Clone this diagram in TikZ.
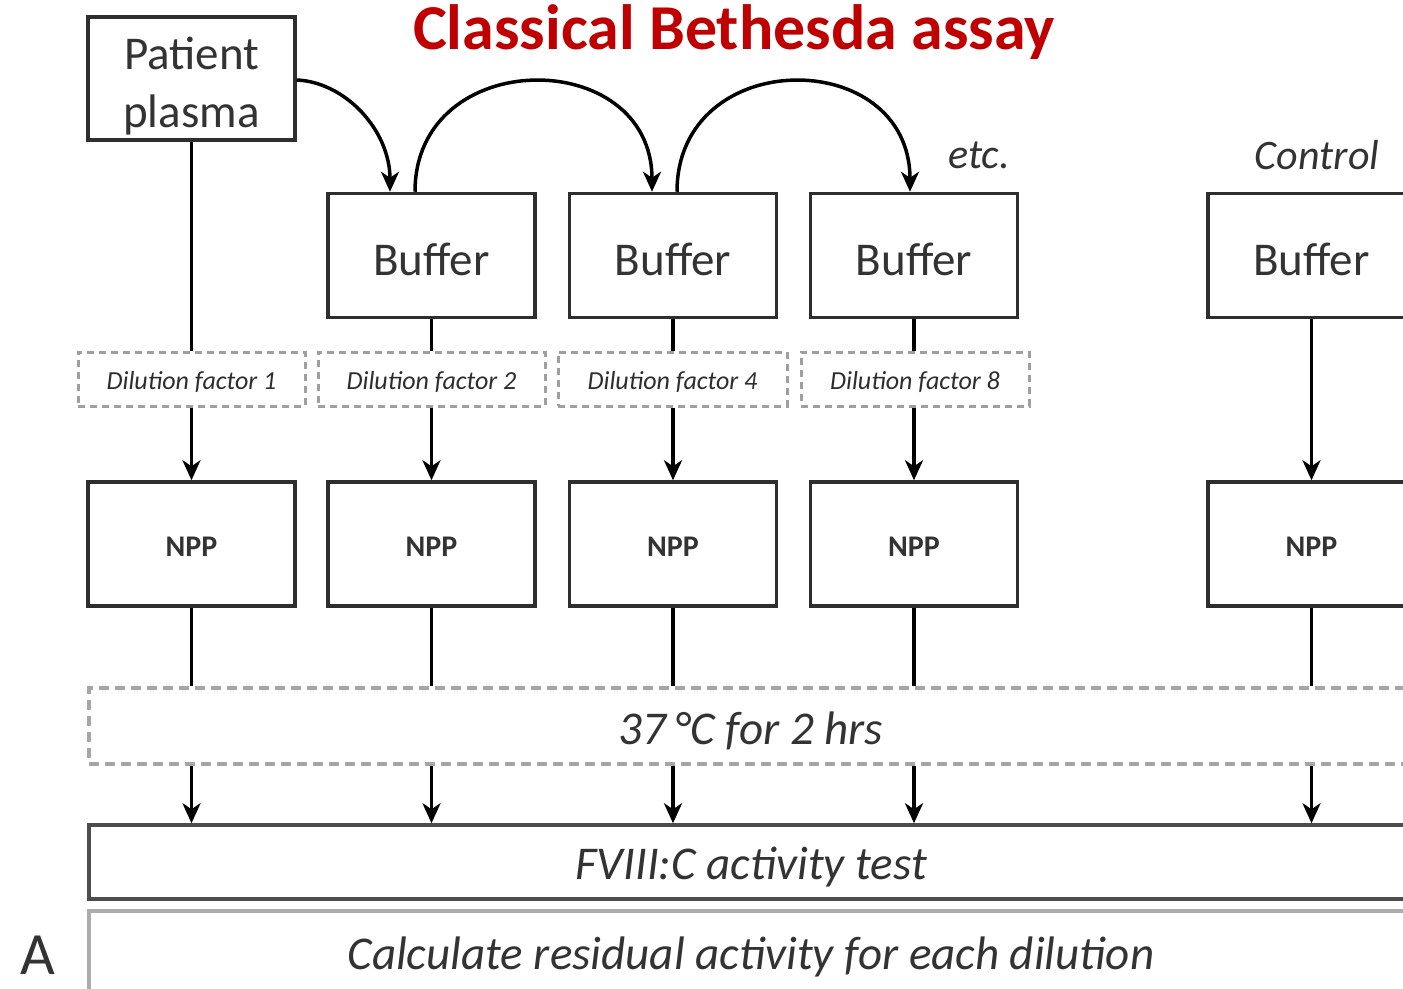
\documentclass[tikz,border=0pt]{standalone}
\usepackage{fontspec}
\setmainfont{Carlito}
\usetikzlibrary{arrows.meta}
\definecolor{titlered}{HTML}{C00000}
\definecolor{boxline}{HTML}{2E2E2E}
\definecolor{txt}{HTML}{333333}
\newcommand{\dn}[2]{\raisebox{-#1pt}[\height][\depth]{#2}}
\begin{document}
\begin{tikzpicture}[x=1pt,y=-1pt,
  solidbox/.style={draw=boxline,line width=3.5pt,fill=white,minimum width=207pt,minimum height=124pt,inner sep=0pt,text=txt,font=\fontsize{47}{50}\selectfont},
  nppbox/.style={solidbox,font=\fontsize{30}{32}\selectfont\bfseries},
  dilbox/.style={draw=gray!75,line width=3pt,dash pattern=on 7pt off 5pt,minimum height=54pt,inner sep=0pt,text=txt!90!black,font=\fontsize{26}{28}\selectfont\itshape},
  widebox/.style={minimum width=1324pt,inner sep=0pt,text=txt,font=\fontsize{47}{50}\selectfont\itshape},
  conn/.style={draw=black,line width=3.5pt},
  arr/.style={conn,-{Stealth[length=20pt,width=18pt,inset=6pt]}},
  lab/.style={text=txt,font=\fontsize{42}{44}\selectfont\itshape,inner sep=0pt}
]
\useasboundingbox (0,0) rectangle (1403,988);
\clip (0,0) rectangle (1403,988);
\fill[white] (0,0) rectangle (1403,988);

% title
\node[text=titlered,font=\fontsize{64}{66}\selectfont\bfseries,inner sep=0pt] (title) at (734,32) {Classical Bethesda assay};

% top row
\node[solidbox,minimum height=123pt,font=\fontsize{47}{58}\selectfont] (pp) at (191.5,78.5) {\dn{8}{\parbox{200pt}{\centering Patient\\plasma}}};
\node[solidbox] (b1) at (431.5,255.5) {\dn{4}{Buffer}};
\node[solidbox] (b2) at (673,255.5) {\dn{4}{Buffer}};
\node[solidbox] (b3) at (914,255.5) {\dn{4}{Buffer}};
\node[solidbox] (bc) at (1311.5,255.5) {\dn{4}{Buffer}};

\node[lab] (etc) at (979,155) {etc.};
\node[lab] (ctrl) at (1317,155) {Control};

% dilution boxes
\node[dilbox,minimum width=227pt] (d1) at (191.5,379) {\dn{3}{Dilution factor 1}};
\node[dilbox,minimum width=227pt] (d2) at (431.5,379) {\dn{3}{Dilution factor 2}};
\node[dilbox,minimum width=229pt] (d3) at (672.5,379) {\dn{3}{Dilution factor 4}};
\node[dilbox,minimum width=228pt] (d4) at (915,379) {\dn{3}{Dilution factor 8}};

% NPP boxes
\node[nppbox] (n1) at (191.5,544) {\dn{3}{NPP}};
\node[nppbox] (n2) at (431.5,544) {\dn{3}{NPP}};
\node[nppbox] (n3) at (673,544) {\dn{3}{NPP}};
\node[nppbox] (n4) at (914,544) {\dn{3}{NPP}};
\node[nppbox] (nc) at (1311.5,544) {\dn{3}{NPP}};

% incubation
\node[widebox,draw=gray!70,line width=3.5pt,dash pattern=on 10pt off 6pt,minimum height=76pt] (inc) at (751,726) {\dn{5}{37\,°C for 2 hrs}};
% FVIII
\node[widebox,draw=boxline!85,line width=3.5pt,minimum height=74pt] (fv) at (751,862) {\dn{5}{FVIII:C activity test}};
% calculate
\node[widebox,draw=gray!65,line width=4.5pt,minimum height=88pt] (calc) at (751,955) {\dn{2}{Calculate residual activity for each dilution}};

\node[text=txt,font=\fontsize{60}{62}\selectfont,anchor=base,inner sep=0pt] (A) at (38,974) {A};

% curved transfer arrows
\draw[arr] (pp.east |- 0,80) .. controls (345,82) and (390,130) .. (b1.north -| 390,0);
\draw[arr] (b1.north -| 415,0) .. controls (415,45) and (652,45) .. (b2.north -| 652,0);
\draw[arr] (b2.north -| 677,0) .. controls (677,45) and (910,45) .. (b3.north -| 910,0);

% vertical connectors
\foreach \t/\d/\n/\x in {pp/d1/n1/191.5, b1/d2/n2/431.5, b2/d3/n3/673, b3/d4/n4/914}{
  \draw[conn] (\t.south) -- (\d.north -| \x,0);
  \draw[arr] (\d.south -| \x,0) -- (\n.north);
}
\draw[arr] (bc.south) -- (nc.north);
\foreach \n/\x in {n1/191.5, n2/431.5, n3/673, n4/914, nc/1311.5}{
  \draw[conn] (\n.south) -- (inc.north -| \x,0);
  \draw[arr] (inc.south -| \x,0) -- (fv.north -| \x,0);
}
\end{tikzpicture}
\end{document}
